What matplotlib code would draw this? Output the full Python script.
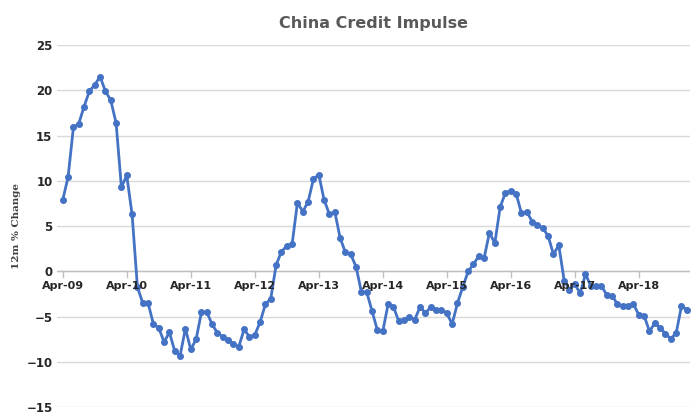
import numpy as np
import matplotlib.pyplot as plt

# monthly readings from Apr-09
values = [7.9, 10.4, 15.9, 16.3, 18.2, 19.9, 20.6, 21.5, 19.9, 18.9, 16.4, 9.3,
          10.6, 6.3, -1.7, -3.5, -3.5, -5.8, -6.2, -7.8, -6.7, -8.8, -9.3, -6.3,
          -8.6, -7.5, -4.5, -4.5, -5.8, -6.8, -7.2, -7.6, -8.0, -8.3, -6.4, -7.2,
          -7.0, -5.6, -3.6, -3.0, 0.7, 2.2, 2.8, 3.0, 7.6, 6.6, 7.7, 10.2,
          10.7, 7.9, 6.3, 6.6, 3.7, 2.1, 1.9, 0.5, -2.3, -2.3, -4.4, -6.5,
          -6.6, -3.6, -3.9, -5.5, -5.4, -5.0, -5.3, -3.9, -4.6, -3.9, -4.2, -4.2,
          -4.6, -5.8, -3.5, -1.7, 0.0, 0.8, 1.7, 1.5, 4.3, 3.1, 7.1, 8.7,
          8.9, 8.6, 6.4, 6.6, 5.5, 5.1, 4.8, 3.9, 1.9, 2.9, -1.0, -2.0,
          -1.4, -2.4, -0.3, -1.6, -1.6, -1.6, -2.6, -2.7, -3.6, -3.8, -3.8, -3.6,
          -4.8, -4.9, -6.6, -5.7, -6.2, -6.9, -7.4, -6.8, -3.8, -4.2]
tick_labels = ["Apr-09", "Apr-10", "Apr-11", "Apr-12", "Apr-13",
               "Apr-14", "Apr-15", "Apr-16", "Apr-17", "Apr-18"]

x = np.arange(len(values))

fig, ax = plt.subplots(figsize=(7, 4.2), dpi=100)
fig.subplots_adjust(left=0.082, right=0.985, top=0.893, bottom=0.03)

ax.plot(x, values, color="#4472C4", linewidth=2, marker="o", markersize=4)

ax.set_ylim(-15, 25)
ax.set_yticks(range(-15, 26, 5))
ax.set_xlim(-1, len(values) - 0.5)
ax.grid(axis="y", color="#d9d9d9", linewidth=1)
ax.set_axisbelow(True)
for s in ["top", "right", "left", "bottom"]:
    ax.spines[s].set_visible(False)

# category axis sits at zero
ax.axhline(0, color="#bfbfbf", linewidth=1, zorder=1)
ticks = np.arange(0, len(values), 12)
ax.set_xticks([])
for t, lab in zip(ticks, tick_labels):
    ax.plot([t, t], [0, -0.6], color="#bfbfbf", linewidth=1, zorder=1)
    ax.text(t, -1.0, lab, ha="center", va="top", fontsize=8, fontweight="bold", color="#262626")

ax.tick_params(axis="y", length=0, labelsize=8.5, labelcolor="#262626")
for lab in ax.get_yticklabels():
    lab.set_fontweight("bold")
ax.set_ylabel("12m % Change", fontsize=7.5, fontweight="bold", color="#404040", family="DejaVu Serif")
ax.set_title("China Credit Impulse", fontsize=11.5, fontweight="bold", color="#595959", pad=12)

fig.savefig("out.png", dpi=100)
